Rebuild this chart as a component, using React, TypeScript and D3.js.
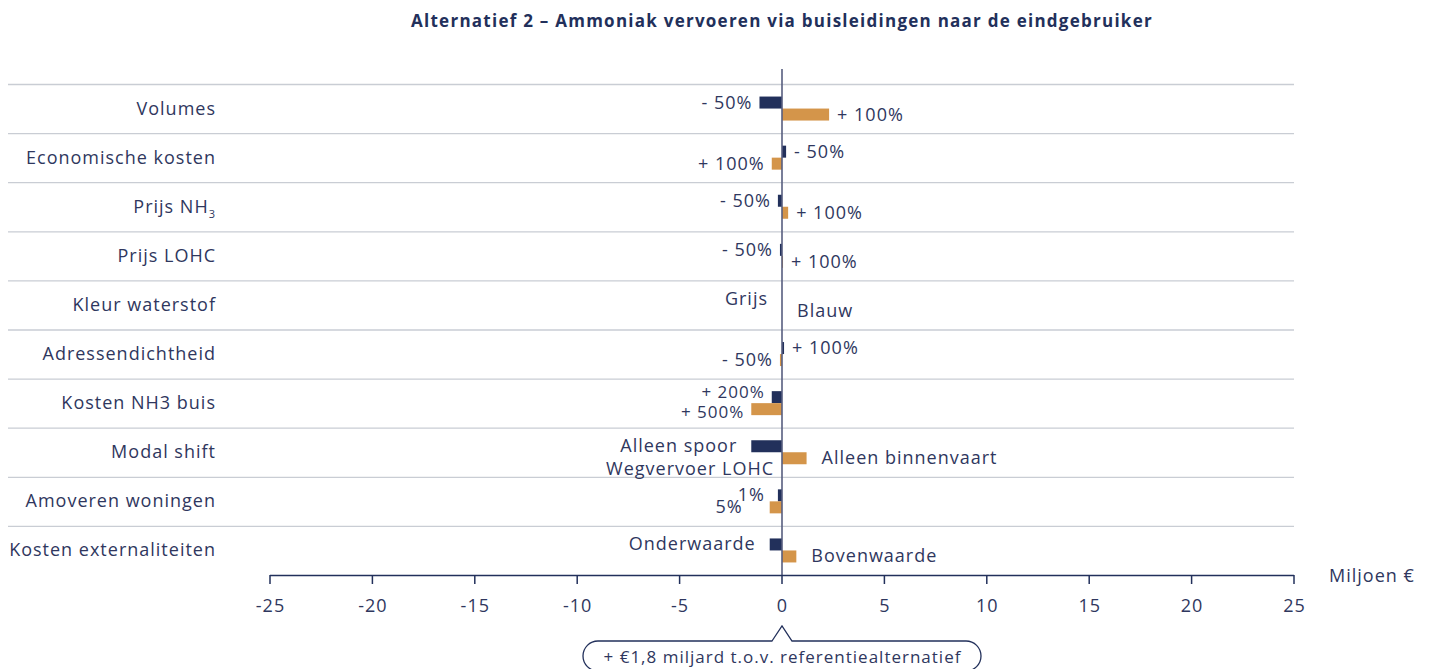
import React from "react"
import * as d3 from "d3"

const categories = [
  "Volumes",
  "Economische kosten",
  "Prijs NH3",
  "Prijs LOHC",
  "Kleur waterstof",
  "Adressendichtheid",
  "Kosten NH3 buis",
  "Modal shift",
  "Amoveren woningen",
  "Kosten externaliteiten",
]

// first scenario (dark bars) and second scenario (orange bars), miljoen €
const lowValues = [-1.1, 0.2, -0.2, -0.1, 0, 0.1, -0.5, -1.5, -0.2, -0.6]
const highValues = [2.3, -0.5, 0.3, 0.05, 0, -0.1, -1.5, 1.2, -0.6, 0.7]

const lowLabels = ["- 50%", "- 50%", "- 50%", "- 50%", "Grijs", "+ 100%", "+ 200%", "Alleen spoor", "1%", "Onderwaarde"]
const highLabels = ["+ 100%", "+ 100%", "+ 100%", "+ 100%", "Blauw", "- 50%", "+ 500%", "Alleen binnenvaart", "5%", "Bovenwaarde"]

// which side the label goes for zero values (1 = right, -1 = left)
const lowSide = [-1, 1, -1, -1, -1, 1, -1, -1, -1, -1]
const highSide = [1, -1, 1, 1, 1, -1, -1, 1, -1, 1]

const xTicks = [-25, -20, -15, -10, -5, 0, 5, 10, 15, 20, 25]

const title = "Alternatief 2 \u2013 Ammoniak vervoeren via buisleidingen naar de eindgebruiker"
const unitLabel = "Miljoen \u20ac"
const calloutText = "+ \u20ac1,8 miljard t.o.v. referentiealternatief"

const NAVY = "#22305b"
const ORANGE = "#d4954a"
const TEXT = "#2f375e"
const GRID = "#c9cdd4"
const FONT = "'Open Sans', 'Noto Sans', sans-serif"

export default function App() {
  const width = 1432
  const height = 669
  const left = 270
  const right = 1294
  const top = 84
  const bottom = 575
  const gridLeft = 8

  const x = d3.scaleLinear().domain([-25, 25]).range([left, right])
  const y = d3.scaleBand<string>().domain(categories).range([top, bottom])
  const bh = 12

  const labelGap = (label: string) => (label.includes("%") ? 8 : 15)

  const labelX = (v: number, side: number, label: string, extra = 0) => {
    const s = v > 0 ? 1 : v < 0 ? -1 : side
    const base = s > 0 ? x(Math.max(v, 0)) : x(Math.min(v, 0))
    // trailing letter spacing is added after the last glyph, compensate on end anchors
    const comp = s > 0 ? 0 : 1
    return { x: base + s * (labelGap(label) + extra) + comp, anchor: s > 0 ? "start" : "end" }
  }

  const zx = x(0)

  return (
    <svg
      width={width}
      height={height}
      style={{ position: "absolute", left: 0, top: 0, display: "block" }}
      fontFamily={FONT}
      letterSpacing={1}
    >
      <text x={782} y={27} textAnchor="middle" fontSize={17} fontWeight={700} fill={NAVY} letterSpacing={1.25}>
        {title}
      </text>

      {categories.map((c, i) => (
        <line
          key={"g" + i}
          x1={gridLeft}
          x2={right}
          y1={(y(c) as number) + 0.5}
          y2={(y(c) as number) + 0.5}
          stroke={GRID}
          strokeWidth={1.3}
        />
      ))}

      {categories.map((c, i) => {
        const mid = (y(c) as number) + y.bandwidth() / 2
        return c === "Prijs NH3" ? (
          <text key={"c" + i} x={216} y={mid + 6} textAnchor="end" fontSize={18} fill={TEXT}>
            Prijs NH
            <tspan fontSize={11} dy={5}>
              3
            </tspan>
          </text>
        ) : (
          <text key={"c" + i} x={216} y={mid + 6} textAnchor="end" fontSize={18} fill={TEXT}>
            {c}
          </text>
        )
      })}

      {categories.map((c, i) => {
        const mid = (y(c) as number) + y.bandwidth() / 2
        const lv = lowValues[i]
        const hv = highValues[i]
        return (
          <g key={"b" + i}>
            <rect
              x={x(Math.min(0, lv))}
              y={mid - bh}
              width={Math.abs(x(lv) - x(0))}
              height={bh}
              fill={NAVY}
            />
            <rect
              x={x(Math.min(0, hv))}
              y={mid}
              width={Math.abs(x(hv) - x(0))}
              height={bh}
              fill={ORANGE}
            />
          </g>
        )
      })}

      {categories.map((c, i) => {
        const mid = (y(c) as number) + y.bandwidth() / 2
        const tight = c === "Kosten NH3 buis"
        const extraLow = c === "Amoveren woningen" ? 6 : 0
        const extraHigh = c === "Amoveren woningen" ? 20 : 0
        const lo = labelX(lowValues[i], lowSide[i], lowLabels[i], extraLow)
        const hi = labelX(highValues[i], highSide[i], highLabels[i], extraHigh)
        const dyLow = tight ? -5 : 0
        const dyHigh = tight ? 3 : 0
        const fs = tight ? 17 : 18
        return (
          <g key={"l" + i} fontSize={18} fill={TEXT}>
            <text x={lo.x} y={mid + dyLow} textAnchor={lo.anchor} fontSize={fs}>
              {lowLabels[i]}
            </text>
            <text x={hi.x} y={mid + 12 + dyHigh} textAnchor={hi.anchor} fontSize={fs}>
              {highLabels[i]}
            </text>
            {c === "Modal shift" && (
              <text x={zx - 8} y={mid + 23} textAnchor="end">
                Wegvervoer LOHC
              </text>
            )}
          </g>
        )
      })}

      <line x1={zx} x2={zx} y1={69} y2={bottom} stroke="#575e7f" strokeWidth={1.6} />

      <line x1={left} x2={right} y1={bottom + 0.5} y2={bottom + 0.5} stroke={NAVY} strokeWidth={1.5} />
      {xTicks.map((t) => (
        <g key={"t" + t}>
          <line x1={x(t)} x2={x(t)} y1={bottom} y2={bottom + 9} stroke={NAVY} strokeWidth={1.5} />
          <text x={x(t) + 0.5} y={612} textAnchor="middle" fontSize={18} fill={TEXT}>
            {t}
          </text>
        </g>
      ))}
      <text x={1329} y={582} fontSize={18} fill={TEXT}>
        {unitLabel}
      </text>

      <path
        d={`M ${zx - 10} 641 L ${zx} 626 L ${zx + 10} 641 L 966 641 A 15 15 0 0 1 981 656 A 15 15 0 0 1 966 671 L 598 671 A 15 15 0 0 1 583 656 A 15 15 0 0 1 598 641 Z`}
        fill="none"
        stroke={NAVY}
        strokeWidth={1.3}
      />
      <text x={zx + 0.5} y={663} textAnchor="middle" fontSize={17} fill={TEXT}>
        {calloutText}
      </text>
    </svg>
  )
}
